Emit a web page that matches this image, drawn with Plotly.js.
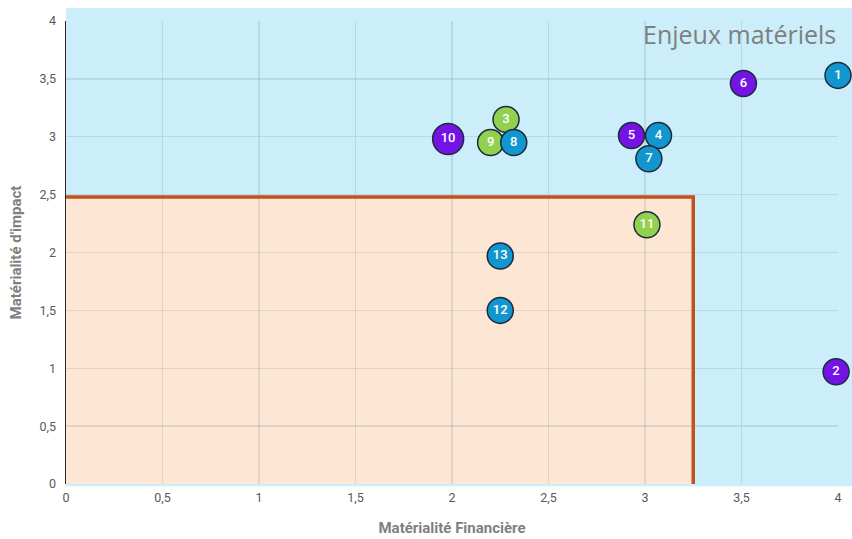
<!DOCTYPE html>
<html>
<head>
<meta charset="utf-8">
<script src="https://cdn.plot.ly/plotly-3.0.1.min.js"></script>
<style>html,body{margin:0;padding:0;background:#fff;}#chart{width:852px;height:539px;}</style>
</head>
<body>
<div id="chart"></div>
<script>
// Data
var labels = ["1","2","3","4","5","6","7","8","9","10","11","12","13"];
var finance = [4.00, 3.99, 2.28, 3.07, 2.93, 3.51, 3.02, 2.32, 2.20, 1.98, 3.01, 2.25, 2.25];
var impact  = [3.53, 0.97, 3.15, 3.01, 3.01, 3.46, 2.81, 2.95, 2.95, 2.98, 2.24, 1.50, 1.97];
var groups  = ["b","p","g","b","p","p","b","b","g","p","g","b","b"];
var sizes   = [26, 26, 26, 26, 26, 26, 26, 26, 26, 31, 26, 26, 26];
var thresholdX = [0, 3.25, 3.25];
var thresholdY = [2.48, 2.48, 0];
var tickVals = [0, 0.5, 1, 1.5, 2, 2.5, 3, 3.5, 4];

var colorMap = {b: "#1296d0", p: "#7313e6", g: "#92d050"};
// drawing order so overlaps match the reference
var order = [0, 1, 5, 9, 2, 8, 7, 4, 3, 6, 10, 11, 12];

var ox = [], oy = [], ot = [], oc = [], os = [];
order.forEach(function(i){
  ox.push(finance[i]); oy.push(impact[i]); ot.push(labels[i]);
  oc.push(colorMap[groups[i]]); os.push(sizes[i]);
});

var traces = [
  {
    x: thresholdX, y: thresholdY, mode: "lines", type: "scatter",
    line: {color: "#c4501b", width: 3.5}, hoverinfo: "skip", showlegend: false,
    cliponaxis: false
  },
  {
    x: ox, y: oy, text: ot, mode: "markers+text", type: "scatter",
    textposition: "middle center",
    textfont: {color: "#ffffff", size: 13, family: "Roboto, Arial, sans-serif", weight: 500},
    marker: {color: oc, size: os, line: {color: "#1d2b3a", width: 1.5}, opacity: 1},
    cliponaxis: false, showlegend: false
  }
];

var fontFam = "Roboto, 'DejaVu Sans Condensed', sans-serif";

var layout = {
  width: 852, height: 539,
  margin: {l: 66, r: 14, t: 21, b: 55},
  paper_bgcolor: "#ffffff",
  plot_bgcolor: "rgba(0,0,0,0)",
  separators: ", ",
  showlegend: false,
  xaxis: {
    range: [0, 4], tickvals: tickVals, showgrid: true,
    gridcolor: "rgba(110,140,150,0.2)", gridwidth: 1.3,
    zeroline: false, showline: false, ticks: "",
    ticklabelstandoff: 4,
    tickfont: {color: "#595959", size: 12.5, family: fontFam},
    title: {text: "<b>Matérialité Financière</b>", font: {color: "#7f7f7f", size: 15, family: fontFam}, standoff: 18},
    fixedrange: true
  },
  yaxis: {
    range: [0, 4], tickvals: tickVals, showgrid: true,
    gridcolor: "rgba(110,140,150,0.2)", gridwidth: 1.3,
    zeroline: false, showline: true, linecolor: "#2a2a2a", linewidth: 1.5, ticks: "",
    ticklabelstandoff: 6,
    tickfont: {color: "#595959", size: 12.5, family: fontFam},
    title: {text: "<b>Matérialité d'impact</b>", font: {color: "#7f7f7f", size: 15, family: fontFam}, standoff: 14},
    fixedrange: true
  },
  shapes: [
    {type: "rect", xref: "paper", yref: "paper", x0: 0, x1: 1.02, y0: -0.005, y1: 1.028,
     fillcolor: "#cbeefa", line: {width: 0}, layer: "below"},
    {type: "rect", xref: "x", yref: "y", x0: 0, x1: 3.25, y0: 0, y1: 2.48,
     fillcolor: "#fde6d4", line: {width: 0}, layer: "below"}
  ],
  annotations: [
    {text: "Enjeux matériels", xref: "paper", yref: "paper", x: 1.0, y: 0.972,
     xanchor: "right", yanchor: "middle", showarrow: false,
     font: {color: "#7f7f7f", size: 25, family: "'Open Sans', 'Noto Sans', sans-serif"}}
  ]
};

Plotly.newPlot("chart", traces, layout, {displayModeBar: false, staticPlot: true});
</script>
</body>
</html>
